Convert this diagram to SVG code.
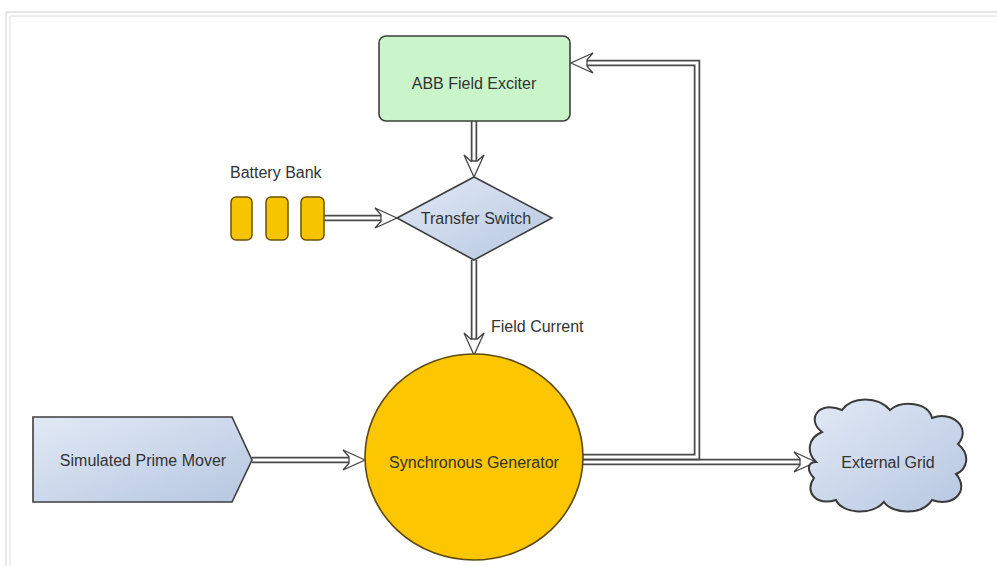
<svg xmlns="http://www.w3.org/2000/svg" width="997" height="566" viewBox="0 0 997 566">
<defs>
<style>
.lbl{font-family:"Liberation Sans",Arial,sans-serif;font-size:16px;fill:#333;}
.mid{text-anchor:middle;}
.wo{fill:none;stroke:#4a4a4a;stroke-width:6.5;}
.wi{fill:none;stroke:#fff;stroke-width:3;}
.ah{fill:#fff;stroke:#444;stroke-width:1.3;stroke-linejoin:miter;}
</style>
<linearGradient id="blue" x1="0" y1="0" x2="1" y2="1">
<stop offset="0" stop-color="#e2e9f5"/>
<stop offset="1" stop-color="#b6c7e1"/>
</linearGradient>
<path id="arr" d="M0,0 L-22,-10 L-16,-3.3 L-16,3.3 L-22,10 Z"/>
</defs>
<rect width="997" height="566" fill="#fff"/>
<g id="frame" fill="none" stroke="#dedede">
<path d="M997,12 H6 V566" stroke-width="1.5"/>
<path d="M997,16 H10 V566" stroke-width="1"/>
</g>
<g id="connectors">
<path class="wo" d="M474,121 V162"/><path class="wi" d="M474,121 V162"/>
<path class="wo" d="M324,218 H382"/><path class="wi" d="M324,218 H382"/>
<path class="wo" d="M474,260 V340"/><path class="wi" d="M474,260 V340"/>
<path class="wo" d="M252,460 H350"/><path class="wi" d="M252,460 H350"/>
<path class="wo" d="M583,462 H801"/><path class="wi" d="M583,462 H801"/>
<path class="wo" d="M583,457 H697 V63 H586"/><path class="wi" d="M583,457 H697 V63 H586"/>
<use href="#arr" class="ah" transform="translate(474,177) rotate(90)"/>
<use href="#arr" class="ah" transform="translate(397,218)"/>
<use href="#arr" class="ah" transform="translate(474,355) rotate(90)"/>
<use href="#arr" class="ah" transform="translate(365,460)"/>
<use href="#arr" class="ah" transform="translate(816,462)"/>
<use href="#arr" class="ah" transform="translate(571,63) rotate(180)"/>
</g>
<g id="abb">
<rect x="379" y="36" width="191" height="85" rx="7" fill="#caf5ca" stroke="#3e3e3e" stroke-width="1.6"/>
<text class="lbl mid" x="474" y="89">ABB Field Exciter</text>
</g>
<g id="battery">
<rect x="231" y="197" width="21" height="43" rx="5" fill="#f6c500" stroke="#6b5200" stroke-width="1.5"/>
<rect x="266" y="197" width="22" height="43" rx="5" fill="#f6c500" stroke="#6b5200" stroke-width="1.5"/>
<rect x="301" y="197" width="23" height="43" rx="5" fill="#f6c500" stroke="#6b5200" stroke-width="1.5"/>
<text class="lbl" x="230" y="178">Battery Bank</text>
</g>
<g id="switch">
<polygon points="397,218 474,177 552,218 474,260" fill="url(#blue)" stroke="#3e3e3e" stroke-width="1.6"/>
<text class="lbl mid" x="476" y="224">Transfer Switch</text>
</g>
<g id="fieldcurrent">
<text class="lbl" x="491" y="332">Field Current</text>
</g>
<g id="primemover">
<polygon points="33,417 232,417 252,460 232,502 33,502" fill="url(#blue)" stroke="#3e3e3e" stroke-width="1.6"/>
<text class="lbl mid" x="143" y="466">Simulated Prime Mover</text>
</g>
<g id="generator">
<ellipse cx="474" cy="457" rx="109" ry="103" fill="#fcc600" stroke="#5e4a10" stroke-width="1.6"/>
<text class="lbl mid" x="474" y="468">Synchronous Generator</text>
</g>
<g id="grid">
<path d="M822,432 C806,420 818,400 842,410 C852,396 878,396 890,410 C902,400 928,402 932,418 C952,410 972,428 958,444 C972,456 966,470 956,474 C970,490 954,508 932,500 C922,516 892,514 884,502 C872,516 842,514 836,500 C816,506 804,492 814,478 C806,470 808,462 816,462 C806,452 808,438 822,432 Z" fill="url(#blue)" stroke="#3a3a3a" stroke-width="2"/>
<text class="lbl mid" x="888" y="468">External Grid</text>
</g>
</svg>
